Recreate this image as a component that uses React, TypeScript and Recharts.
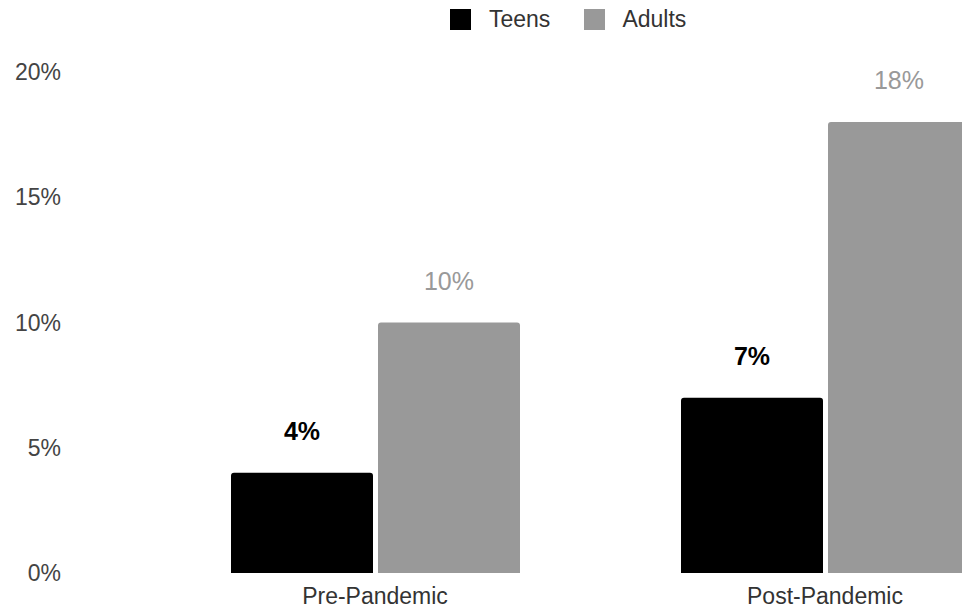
import React from 'react';
import { BarChart, Bar, XAxis, YAxis, Legend, LabelList } from 'recharts';

const periods = ['Pre-Pandemic', 'Post-Pandemic'];
const teens = [4, 7];
const adults = [10, 18];
const yTicks = [0, 5, 10, 15, 20];

const chartData = periods.map((period, i) => ({
  period,
  teens: teens[i],
  adults: adults[i],
}));

const FONT = 'Arial, "Liberation Sans", Helvetica, sans-serif';
const BLACK = '#000000';
const GRAY = '#999999';

const YTick = ({ y, payload }: any) => (
  <text x={61} y={y} textAnchor="end" dominantBaseline="central" fill="#444" fontSize={23} fontFamily={FONT}>
    {`${payload.value}%`}
  </text>
);

const XTick = ({ x, y, payload }: any) => (
  <text x={x} y={y + 23} textAnchor="middle" fill="#333" fontSize={23} fontFamily={FONT}>
    {payload.value}
  </text>
);

const renderLegend = () => (
  <div style={{ display: 'flex', alignItems: 'center', fontFamily: FONT, fontSize: 23, color: '#333', height: 26 }}>
    <span style={{ width: 21, height: 21, background: BLACK, display: 'inline-block' }} />
    <span style={{ marginLeft: 18 }}>Teens</span>
    <span style={{ width: 21, height: 21, background: GRAY, display: 'inline-block', marginLeft: 34 }} />
    <span style={{ marginLeft: 17 }}>Adults</span>
  </div>
);

const App = () => {
  return (
    <div style={{ position: 'fixed', left: 0, top: 0, width: 962, height: 608, overflow: 'hidden', background: '#fff' }}>
      <BarChart
        width={1100}
        height={608}
        data={chartData}
        margin={{ top: 46, right: 50, bottom: 0, left: 0 }}
        barCategoryGap={81}
        barGap={5}
      >
        <XAxis dataKey="period" axisLine={false} tickLine={false} height={35} tick={<XTick />} />
        <YAxis
          width={150}
          domain={[0, 20]}
          ticks={yTicks}
          axisLine={false}
          tickLine={false}
          tick={<YTick />}
        />
        <Legend
          verticalAlign="top"
          content={renderLegend}
          wrapperStyle={{ top: 6, left: 450, width: 'auto' }}
        />
        <Bar dataKey="teens" name="Teens" fill={BLACK} radius={[3, 3, 0, 0]} isAnimationActive={false}>
          <LabelList
            dataKey="teens"
            position="top"
            offset={33}
            formatter={(v: any) => `${v}%`}
            style={{ fill: BLACK, fontSize: 25, fontWeight: 'bold', fontFamily: FONT }}
          />
        </Bar>
        <Bar dataKey="adults" name="Adults" fill={GRAY} radius={[3, 3, 0, 0]} isAnimationActive={false}>
          <LabelList
            dataKey="adults"
            position="top"
            offset={33}
            formatter={(v: any) => `${v}%`}
            style={{ fill: GRAY, fontSize: 25, fontFamily: FONT }}
          />
        </Bar>
      </BarChart>
    </div>
  );
};

export default App;
